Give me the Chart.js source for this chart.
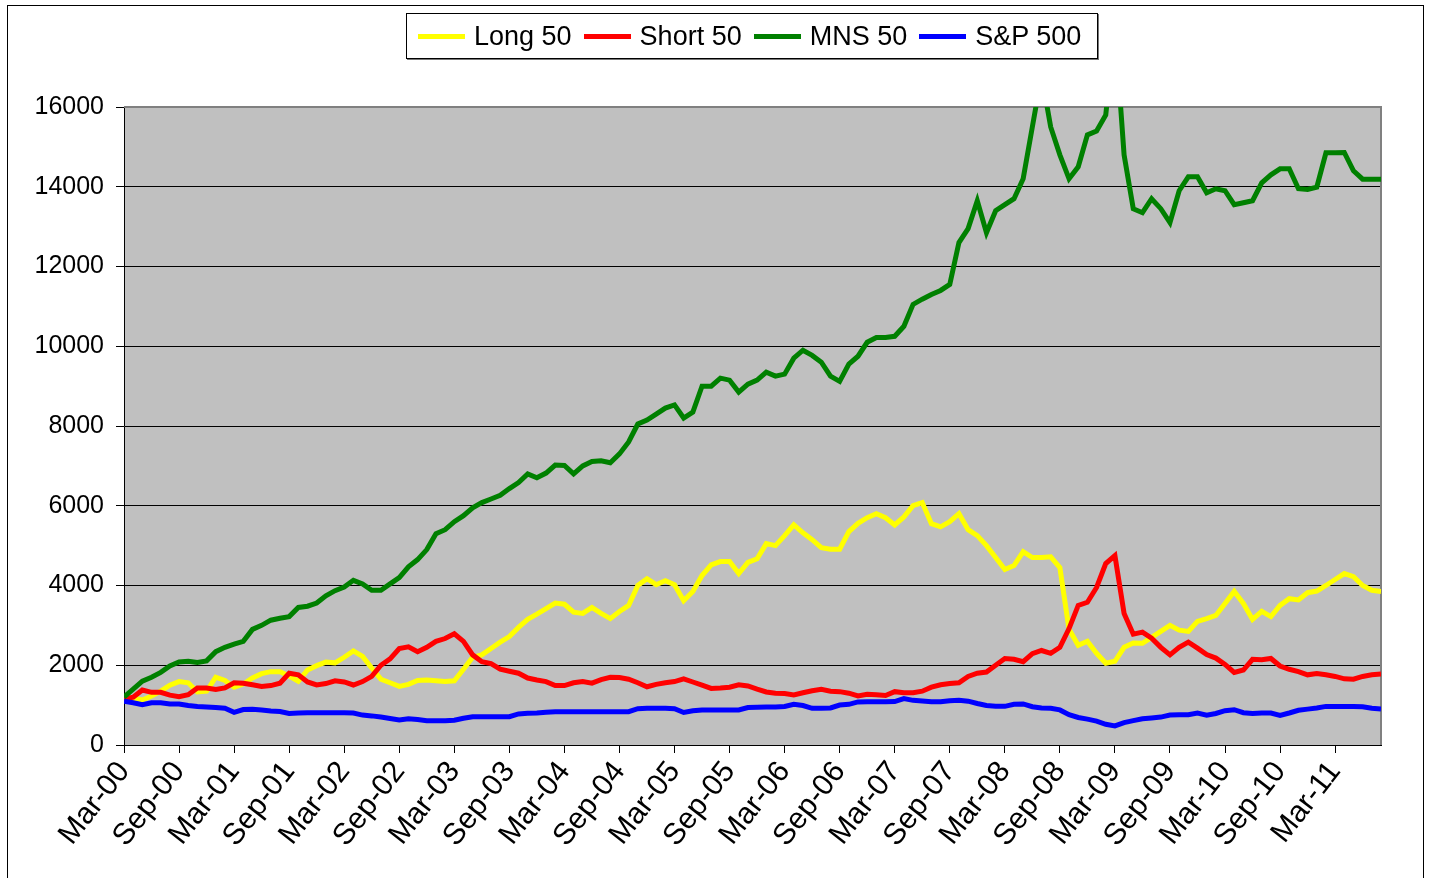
<!DOCTYPE html>
<html>
<head>
<meta charset="utf-8">
<script src="https://cdn.jsdelivr.net/npm/chart.js@4"></script>
<style>
  html, body { margin: 0; padding: 0; background: #fff; }
  #frame { position: absolute; left: 7px; top: 5px; width: 1415px; height: 890px; border: 1px solid #000; }
  #wrap { position: absolute; left: 0; top: 0; width: 1429px; height: 878px; }
  #legend {
    position: absolute; left: 406px; top: 13px; width: 679px; height: 44px;
    border: 1px solid #000; background: #fff; box-shadow: 1px 1px 0 #777;
    display: flex; align-items: center; padding-left: 11px; box-sizing: content-box;
    font-family: Arial, "Liberation Sans", sans-serif; font-size: 27px; color: #000;
  }
  #legend .item { display: flex; align-items: center; margin-right: 12px; white-space: nowrap; }
  #legend .swatch { width: 47px; height: 5px; margin-right: 9px; }
</style>
</head>
<body>
<div id="frame"></div>
<div id="wrap"><canvas id="chart" width="1429" height="878"></canvas></div>
<div id="legend"></div>
<script>
// monthly points, Mar-00 .. Aug-11
const MONTHS = ['Jan', 'Feb', 'Mar', 'Apr', 'May', 'Jun', 'Jul', 'Aug', 'Sep', 'Oct', 'Nov', 'Dec'];
const labels = [];
for (let y = 2000, m = 2; labels.length < 138; m++) {
    if (m > 11) { m = 0; y++; }
    labels.push(MONTHS[m] + '-' + String(y % 100).padStart(2, '0'));
}

const long50 = [
    1200, 1180, 1130, 1230, 1350, 1500, 1590, 1560, 1330, 1350, 1700, 1620,
    1450, 1530, 1680, 1790, 1840, 1840, 1730, 1600, 1880, 1990, 2080, 2060,
    2200, 2360, 2220, 1930, 1650, 1560, 1470, 1520, 1620, 1630, 1610, 1590,
    1610, 1900, 2200, 2260, 2420, 2580, 2720, 2950, 3150, 3280, 3420, 3560,
    3530, 3330, 3300, 3450, 3300, 3170, 3350, 3500, 4000, 4170, 4020, 4120,
    4020, 3620, 3850, 4250, 4520, 4600, 4600, 4300, 4580, 4670, 5050, 5000,
    5250, 5520, 5320, 5150, 4950, 4910, 4910, 5350, 5560, 5700, 5800, 5700,
    5520, 5720, 6000, 6080, 5550, 5470, 5600, 5800, 5400, 5250, 5000, 4700,
    4400, 4500, 4850, 4700, 4700, 4720, 4450, 2900, 2500, 2600, 2300, 2050,
    2100, 2450, 2560, 2550, 2700, 2850, 3000, 2880, 2850, 3100, 3170, 3250,
    3550, 3850, 3550, 3150, 3350, 3220, 3500, 3670, 3640, 3820, 3860, 4000,
    4150, 4300, 4220, 4000, 3880, 3850
];
const short50 = [
    1150, 1200, 1380, 1320, 1320, 1250, 1210, 1260, 1430, 1430, 1390, 1430,
    1560, 1550, 1510, 1470, 1490, 1550, 1800, 1760, 1580, 1505, 1540, 1610,
    1580, 1505, 1590, 1720, 2000, 2160, 2420, 2460, 2340, 2450, 2600, 2670,
    2790, 2600, 2260, 2090, 2040, 1900, 1850, 1800, 1680, 1630, 1590, 1490,
    1490, 1560, 1590, 1550, 1640, 1700, 1690, 1650, 1560, 1460, 1520, 1560,
    1590, 1660, 1580, 1500, 1420, 1430, 1450, 1510, 1480, 1400, 1330, 1300,
    1290, 1255, 1310, 1360, 1395, 1350, 1338, 1300, 1230, 1270, 1260, 1240,
    1338, 1310, 1310, 1350, 1450, 1510, 1540, 1560, 1720, 1800, 1830, 2000,
    2170, 2150, 2090, 2290, 2370, 2300, 2450, 2920, 3500, 3580, 3950, 4550,
    4750, 3300, 2780, 2830, 2680, 2450, 2260, 2450, 2580, 2430, 2270, 2180,
    2020, 1820, 1880, 2150, 2140, 2170, 1980, 1900, 1840, 1760, 1790, 1760,
    1720, 1660, 1650, 1720, 1760, 1780
];
const mns50 = [
    1200, 1400, 1600, 1700, 1820, 1980, 2080, 2100, 2070, 2110, 2340, 2450,
    2530, 2600, 2900, 3000, 3130, 3180, 3220, 3450, 3480, 3560, 3740, 3870,
    3960, 4130, 4040, 3880, 3880, 4040, 4200, 4470, 4650, 4900, 5300, 5400,
    5600, 5750, 5950, 6080, 6170, 6260, 6430, 6580, 6800, 6700, 6820, 7020,
    7010, 6800, 7000, 7110, 7130, 7080, 7300, 7600, 8050, 8150, 8300, 8450,
    8530, 8200, 8350, 9000, 9000, 9200, 9150, 8850, 9050, 9150, 9350, 9250,
    9300, 9700, 9900, 9770, 9600, 9250, 9120, 9550, 9750, 10100, 10220, 10220,
    10250, 10500, 11050, 11180, 11300, 11400, 11550, 12600, 12950, 13650, 12850, 13400,
    13550, 13700, 14200, 15500, 16800, 15500, 14800, 14200, 14500, 15300, 15400, 15800,
    18000, 14800, 13450, 13350, 13700, 13450, 13100, 13900, 14250, 14250, 13850, 13950,
    13900, 13550, 13600, 13650, 14100, 14300, 14450, 14450, 13950, 13930, 13990, 14850,
    14850, 14860, 14400, 14190, 14190, 14190
];
const sp500 = [
    1100, 1060, 1010, 1060, 1060, 1030, 1030, 990, 965, 950, 940, 920,
    820, 890, 895, 880, 855, 840, 790, 800, 811, 811, 811, 811,
    811, 800, 750, 730, 700, 665, 630, 660, 640, 610, 610, 610,
    620, 670, 710, 710, 710, 710, 710, 780, 794, 800, 819, 836,
    836, 836, 836, 836, 836, 836, 836, 836, 910, 920, 920, 920,
    910, 815, 860, 878, 878, 878, 878, 880, 940, 945, 950, 955,
    965, 1020, 990, 920, 920, 930, 1003, 1020, 1080, 1086, 1086, 1086,
    1090, 1165, 1120, 1105, 1086, 1086, 1110, 1120, 1100, 1040, 990, 970,
    970, 1020, 1030, 960, 930, 920, 880, 760, 690, 650, 600, 520,
    480, 560, 610, 660, 680, 700, 750, 760, 760, 800, 750, 790,
    860, 885, 810, 790, 802, 802, 740, 802, 870, 900, 930, 968,
    968, 968, 968, 960, 920, 900
];

const yTicks = [0, 2000, 4000, 6000, 8000, 10000, 12000, 14000, 16000];

Chart.defaults.font.family = 'Arial, "Liberation Sans", sans-serif';
Chart.defaults.color = '#000';

// gray plot area with a darker edge on top and right, like Excel
const plotArea = {
    id: 'plotArea',
    beforeDraw(chart) {
        const { ctx, chartArea: a } = chart;
        ctx.save();
        ctx.fillStyle = '#c0c0c0';
        ctx.fillRect(a.left, a.top, a.right - a.left, a.bottom - a.top);
        ctx.restore();
    },
    beforeDatasetsDraw(chart) {
        const { ctx, chartArea: a } = chart;
        ctx.save();
        ctx.strokeStyle = '#808080';
        ctx.lineWidth = 2;
        ctx.beginPath();
        ctx.moveTo(a.left, a.top);
        ctx.lineTo(a.right, a.top);
        ctx.lineTo(a.right, a.bottom);
        ctx.stroke();
        ctx.restore();
    }
};

function series(label, data, color, order) {
    return {
        label: label,
        data: data,
        borderColor: color,
        backgroundColor: color,
        borderWidth: 5,
        pointRadius: 0,
        tension: 0,
        clip: 0,
        order: order
    };
}

const chart = new Chart(document.getElementById('chart'), {
    type: 'line',
    data: {
        labels: labels,
        datasets: [
            series('Long 50', long50, '#ffff00', 4),
            series('Short 50', short50, '#ff0000', 3),
            series('MNS 50', mns50, '#008000', 2),
            series('S&P 500', sp500, '#0000ff', 1)
        ]
    },
    options: {
        responsive: false,
        animation: false,
        layout: { padding: { left: 0, top: 107, right: 48, bottom: 0 } },
        plugins: {
            legend: { display: false },
            tooltip: { enabled: false }
        },
        scales: {
            x: {
                offset: false,
                afterFit(scale) { scale.height = 133; },
                grid: {
                    drawOnChartArea: false,
                    tickLength: 8,
                    color: ctx => ctx.index % 6 === 0 ? '#000' : 'rgba(0,0,0,0)'
                },
                border: { color: '#000', width: 1 },
                ticks: {
                    autoSkip: false,
                    maxRotation: 52,
                    minRotation: 52,
                    padding: 2,
                    font: { size: 30 },
                    callback: function (val, i) {
                        return i % 6 === 0 ? this.getLabelForValue(val) : '';
                    }
                }
            },
            y: {
                min: 0,
                max: 16000,
                afterFit(scale) { scale.width = 124; },
                afterBuildTicks(scale) { scale.ticks = yTicks.map(v => ({ value: v })); },
                grid: { color: '#000', lineWidth: 1, tickLength: 8 },
                border: { color: '#000', width: 1 },
                ticks: {
                    padding: 12,
                    font: { size: 25 },
                    callback: v => String(v)
                }
            }
        }
    },
    plugins: [plotArea]
});

// legend box, built from the datasets
const legendEl = document.getElementById('legend');
chart.data.datasets.forEach(ds => {
    const item = document.createElement('span');
    item.className = 'item';
    const sw = document.createElement('span');
    sw.className = 'swatch';
    sw.style.background = ds.borderColor;
    const txt = document.createElement('span');
    txt.textContent = ds.label;
    item.appendChild(sw);
    item.appendChild(txt);
    legendEl.appendChild(item);
});
</script>
</body>
</html>
